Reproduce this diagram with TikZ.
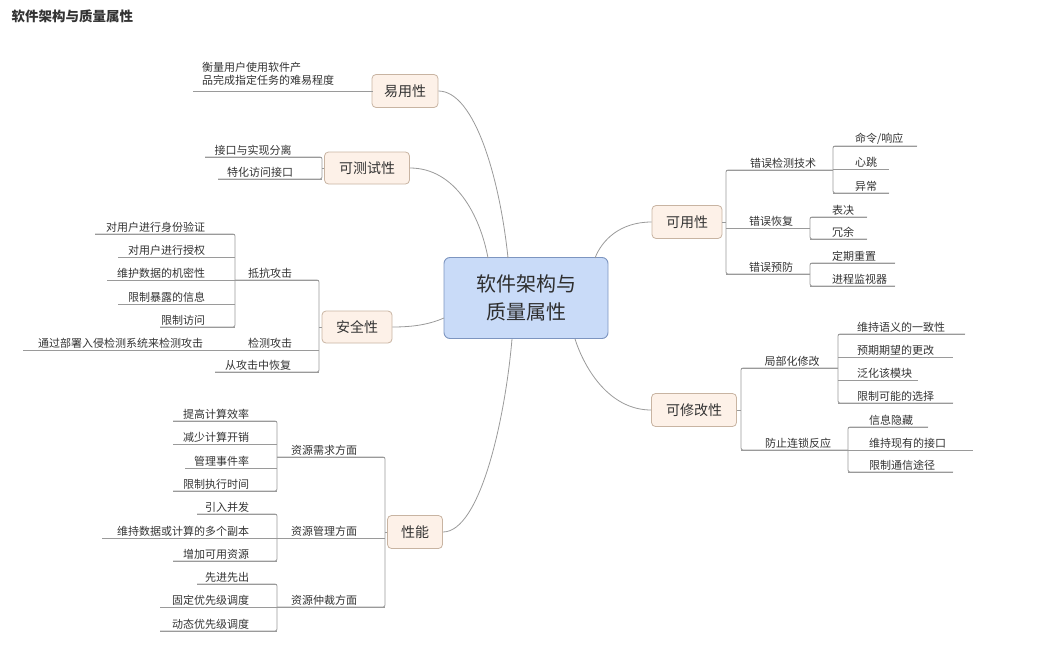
\documentclass[tikz,border=0pt]{standalone}
\usepackage{fontspec}
\setmainfont{Noto Sans CJK SC}
\usetikzlibrary{positioning,calc}
\definecolor{linegray}{HTML}{9A9A9A}
\definecolor{textgray}{HTML}{333333}
\definecolor{topicfill}{HTML}{FDF1E8}
\definecolor{topicdraw}{HTML}{C8B4A2}
\definecolor{corefill}{HTML}{C9DBF8}
\definecolor{coredraw}{HTML}{7D95C0}

\tikzset{
  leaf/.style={inner sep=1.8pt, text=textgray, font=\fontsize{11}{16}\selectfont},
  branch/.style={draw=linegray, line width=0.8pt},
  quality/.style={draw=topicdraw, fill=topicfill, rounded corners=4pt, line width=0.8pt,
    text=textgray, font=\fontsize{14}{16}\selectfont, inner sep=0pt},
  core/.style={draw=coredraw, fill=corefill, rounded corners=6pt, line width=0.9pt,
    text=textgray!90!black, font=\fontsize{20}{28}\selectfont, align=center, inner sep=0pt}
}

% name, left end, right end, line y, anchor, text x, text
\newcommand{\twig}[7]{%
  \coordinate (#1-l) at (#2,#4);
  \coordinate (#1-r) at (#3,#4);
  \node[leaf, anchor=#5] (#1) at (#6,#4) {#7};
  \draw[branch] (#1-l) -- (#1-r);}

\begin{document}
\begin{tikzpicture}[x=1pt,y=-1pt]
  \useasboundingbox (0,0) rectangle (1049,645);

  \node[anchor=west, text=textgray, font=\bfseries\fontsize{13.5}{16}\selectfont] (title) at (8,16) {软件架构与质量属性};

  % centre and main topics
  \node[core, minimum width=164pt, minimum height=81pt] (core) at (526,298) {软件架构与\\质量属性};
  \node[quality, minimum width=66pt, minimum height=33pt] (yy) at (405,91) {易用性};
  \node[quality, minimum width=85pt, minimum height=32pt] (cs) at (367,168) {可测试性};
  \node[quality, minimum width=70pt, minimum height=32pt] (aq) at (357,327) {安全性};
  \node[quality, minimum width=55pt, minimum height=33pt] (xn) at (415,532) {性能};
  \node[quality, minimum width=70pt, minimum height=33pt] (ky) at (687,222) {可用性};
  \node[quality, minimum width=85pt, minimum height=33pt] (xg) at (694,410) {可修改性};

  \draw[branch] (yy.east) .. controls (475,91) and (500,180) .. (508,258);
  \draw[branch] (cs.east) .. controls (455,168) and (480,215) .. (488,258);
  \draw[branch] (aq.east) .. controls (415,327) and (430,324) .. (444,318);
  \draw[branch] (xn.east) .. controls (480,532) and (505,420) .. (512,339);
  \draw[branch] (ky.west) .. controls (620,222) and (602,240) .. (595,258);
  \draw[branch] (xg.west) .. controls (610,410) and (585,370) .. (575,339);

  % left side
  \twig{yy1}{193}{373}{91}{south west}{200}{\begin{tabular}{@{}l@{}}衡量用户使用软件产\\[-3pt]品完成指定任务的难易程度\end{tabular}}
  \twig{cs1}{205}{322}{157}{south}{253}{接口与实现分离}
  \twig{cs2}{218}{322}{179}{south}{260}{特化访问接口}

  \twig{aq1}{235}{319}{280}{south}{270}{抵抗攻击}
  \twig{aq2}{215}{319}{350}{south}{270}{检测攻击}
  \twig{aq3}{215}{319}{372}{south}{258}{从攻击中恢复}
  \twig{aq11}{95}{235}{234}{south east}{207}{对用户进行身份验证}
  \twig{aq12}{118}{235}{257}{south east}{207}{对用户进行授权}
  \twig{aq13}{107}{235}{280}{south east}{207}{维护数据的机密性}
  \twig{aq14}{118}{235}{304}{south east}{207}{限制暴露的信息}
  \twig{aq15}{160}{235}{327}{south east}{207}{限制访问}
  \twig{aq21}{23}{215}{350}{south east}{205}{通过部署入侵检测系统来检测攻击}

  \twig{xn1}{277}{385}{457}{south}{324}{资源需求方面}
  \twig{xn2}{277}{385}{538}{south}{324}{资源管理方面}
  \twig{xn3}{277}{385}{607}{south}{324}{资源仲裁方面}
  \twig{xn11}{173}{277}{421}{south east}{251}{提高计算效率}
  \twig{xn12}{173}{277}{444}{south east}{251}{减少计算开销}
  \twig{xn13}{185}{277}{468}{south east}{251}{管理事件率}
  \twig{xn14}{173}{277}{491}{south east}{251}{限制执行时间}
  \twig{xn21}{197}{277}{514}{south east}{251}{引入并发}
  \twig{xn22}{102}{277}{538}{south east}{251}{维持数据或计算的多个副本}
  \twig{xn23}{173}{277}{561}{south east}{251}{增加可用资源}
  \twig{xn31}{197}{277}{584}{south east}{251}{先进先出}
  \twig{xn32}{160}{277}{607}{south east}{251}{固定优先级调度}
  \twig{xn33}{160}{277}{631}{south east}{251}{动态优先级调度}

  % right side
  \twig{ky1}{726}{833}{170}{south}{783}{错误检测技术}
  \twig{ky2}{726}{810}{228}{south}{771}{错误恢复}
  \twig{ky3}{726}{810}{274}{south}{771}{错误预防}
  \twig{ky11}{833}{917}{146}{south west}{853}{命令/响应}
  \twig{ky12}{833}{889}{169}{south west}{853}{心跳}
  \twig{ky13}{833}{889}{193}{south west}{853}{异常}
  \twig{ky21}{810}{867}{217}{south west}{830}{表决}
  \twig{ky22}{810}{867}{239}{south west}{830}{冗余}
  \twig{ky31}{810}{895}{263}{south west}{830}{定期重置}
  \twig{ky32}{810}{895}{286}{south west}{830}{进程监视器}

  \twig{xg1}{741}{838}{368}{south}{792}{局部化修改}
  \twig{xg2}{741}{848}{450}{south}{798}{防止连锁反应}
  \twig{xg11}{838}{965}{334}{south west}{855}{维持语义的一致性}
  \twig{xg12}{838}{953}{357}{south west}{855}{预期期望的更改}
  \twig{xg13}{838}{918}{380}{south west}{855}{泛化该模块}
  \twig{xg14}{838}{953}{403}{south west}{855}{限制可能的选择}
  \twig{xg21}{848}{928}{427}{south west}{867}{信息隐藏}
  \twig{xg22}{848}{973}{450}{south west}{867}{维持现有的接口}
  \twig{xg23}{848}{953}{472}{south west}{867}{限制通信途径}

  % brackets
  \foreach \a/\b in {cs1/cs2, aq1/aq3, aq11/aq15, xn1/xn3, xn11/xn14, xn21/xn23, xn31/xn33}
    \draw[branch, rounded corners=2pt] (\a-l) -- (\a-r) -- (\b-r) -- (\b-l);
  \foreach \a/\b in {ky1/ky3, ky11/ky13, ky21/ky22, ky31/ky32, xg1/xg2, xg11/xg14, xg21/xg23}
    \draw[branch, rounded corners=2pt] (\a-r) -- (\a-l) -- (\b-l) -- (\b-r);

  \draw[branch] (cs.west) -- (cs.west -| cs1-r);
  \draw[branch] (aq.west) -- (aq.west -| aq1-r);
  \draw[branch] (xn.west) -- (xn.west -| xn1-r);
  \draw[branch] (ky.east) -- (ky.east -| ky1-l);
  \draw[branch] (xg.east) -- (xg.east -| xg1-l);
\end{tikzpicture}
\end{document}
